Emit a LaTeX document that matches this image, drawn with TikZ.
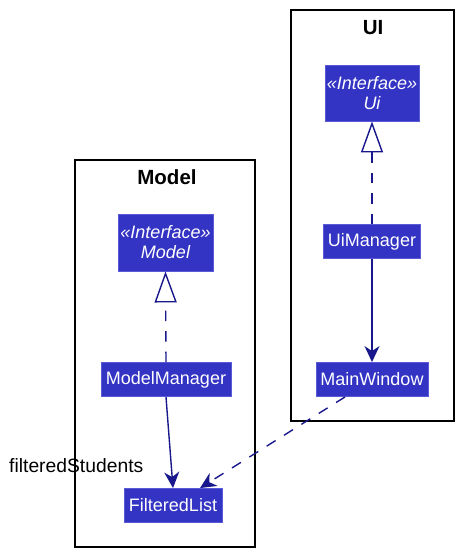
\documentclass[tikz,border=0pt]{standalone}
\usepackage{fontspec}
\setmainfont{Liberation Sans}
\usetikzlibrary{arrows.meta,calc}
\definecolor{boxfill}{RGB}{51,51,196}
\definecolor{boxline}{RGB}{90,90,214}
\definecolor{arrowc}{RGB}{24,24,140}
\begin{document}
\begin{tikzpicture}[x=1pt,y=-1pt,
  cls/.style={draw=boxline, fill=boxfill, text=white, line width=0.9pt, inner sep=0pt,
    font=\fontsize{18}{20}\selectfont, align=center},
  pkg/.style={draw=black, line width=1.6pt},
  pkgtitle/.style={font=\fontsize{20.5}{22}\selectfont\bfseries, inner sep=0pt},
  realize/.style={draw=arrowc, line width=1.4pt, dash pattern=on 10.5pt off 10pt,
    -{Triangle[open, length=31pt, width=22pt, fill=white]}},
  assoc/.style={draw=arrowc, line width=1.4pt, -{Stealth[length=16pt, width=15pt, inset=5pt]}},
  dep/.style={draw=arrowc, line width=1.4pt, dash pattern=on 10.5pt off 10pt,
    -{Stealth[length=16pt, width=15pt, inset=5pt]}}
]
\useasboundingbox (0,0) rectangle (461,555);
% packages
\draw[pkg] (75,160) rectangle (255,547);
\node[pkgtitle] (modeltitle) at (167,177) {Model};
\draw[pkg] (291,10) rectangle (454,421);
\node[pkgtitle] (uititle) at (373,28) {UI};
% classes
\node[cls, minimum width=94pt, minimum height=56pt] (ui) at (372,93)
  {\itshape «Interface»\\[0pt]\itshape Ui};
\node[cls, minimum width=97pt, minimum height=34pt] (uimanager) at (372,241.5) {UiManager};
\node[cls, minimum width=112pt, minimum height=34pt] (mainwindow) at (372,379.5) {MainWindow};
\node[cls, minimum width=95pt, minimum height=57pt] (model) at (165.5,242.5)
  {\itshape «Interface»\\[0pt]\itshape Model};
\node[cls, minimum width=130pt, minimum height=34pt] (modelmanager) at (166,379.5) {ModelManager};
\node[cls, minimum width=98pt, minimum height=34pt] (filteredlist) at (173,505.5) {FilteredList};
% label
\node[anchor=west, inner sep=0pt, font=\fontsize{19.3}{21}\selectfont] (lbl) at (9,466) {filteredStudents};
% connectors
\draw[realize] (uimanager.north) -- (ui.south);
\draw[realize] (modelmanager.north) -- (model.south);
\draw[assoc] (uimanager.south) -- (mainwindow.north);
\draw[assoc] (modelmanager.south) -- (filteredlist.north);
\draw[dep] ($(mainwindow.south)+(-27,0)$) -- ($(filteredlist.north)+(27,0)$);
\end{tikzpicture}
\end{document}
